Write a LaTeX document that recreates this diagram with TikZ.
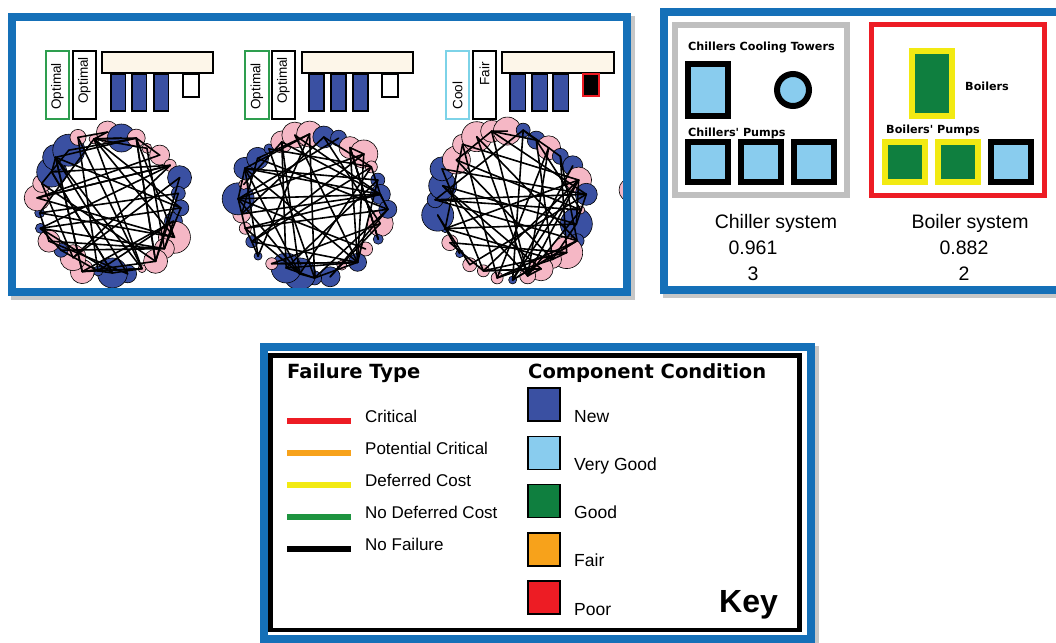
\documentclass[tikz,border=0pt]{standalone}
\usepackage{fontspec}
\setmainfont{Liberation Sans}
\newfontfamily\vfont{DejaVu Sans}
\usepackage{tikz}

\definecolor{frameblue}{HTML}{1570B8}
\definecolor{netpink}{HTML}{F5B7C5}
\definecolor{netblue}{HTML}{3A50A2}
\definecolor{paleyellow}{HTML}{FDF6E9}
\definecolor{skyblue}{HTML}{89CCEE}
\definecolor{goodgreen}{HTML}{0F7F3F}
\definecolor{fairorange}{HTML}{F7A21B}
\definecolor{poorred}{HTML}{ED1C24}
\definecolor{defyellow}{HTML}{F2EA12}
\definecolor{ndcgreen}{HTML}{1E9440}
\definecolor{coolcyan}{HTML}{7DD3E8}
\definecolor{optgreen}{HTML}{2E9E4F}
\definecolor{boxgrey}{HTML}{BFBFBF}

\begin{document}
\begin{tikzpicture}[x=1pt, y=-1pt,
    panel/.style={draw=frameblue, line width=8pt},
    shade/.style={draw=black!22, line width=8pt},
    bar/.style={draw=black, line width=1.6pt},
    edge/.style={line width=1.6pt, line cap=round},
    disk/.style={draw=black, line width=0.6pt},
    unit/.style={line width=6pt},
    comp/.style={draw=black, line width=1.5pt},
    tag/.style={font=\fontsize{13.5}{15}\selectfont, rotate=90, inner sep=0pt},
    small/.style={font=\vfont\bfseries\fontsize{11.2}{13}\selectfont, anchor=base west, inner sep=0pt},
    sys/.style={font=\fontsize{19.5}{22}\selectfont, anchor=base, inner sep=0pt},
    head/.style={font=\vfont\bfseries\fontsize{19.5}{22}\selectfont, anchor=base west, inner sep=0pt},
    lbl/.style={font=\fontsize{17}{19}\selectfont, anchor=base west, inner sep=0pt}]
    \clip (0,0) rectangle (1056,642);

    % ---- Left panel: three network snapshots ----
    \draw[shade] (15,20) rectangle (631,296);
    \fill[white] (16,21) rectangle (624,289);

    % condition tags and bars above each network
    \draw[optgreen, line width=2pt] (46,51) rectangle (69,119);
    \draw[bar] (73,51) rectangle (96,119);
    \node[tag] (opt1a) at (57.5,86.5) {Optimal};
    \node[tag] (opt1b) at (84.5,80.5) {Optimal};
    \draw[bar, fill=paleyellow] (102,52) rectangle (213,73);
    \foreach \x in {111,132,154}
      \draw[bar, fill=netblue] (\x,74) rectangle ++(14.5,37);
    \draw[bar, fill=white] (183,74) rectangle (199,97);

    \draw[optgreen, line width=2pt] (245,51) rectangle (269,119);
    \draw[bar] (272,51) rectangle (295,119);
    \node[tag] (opt2a) at (257,86.5) {Optimal};
    \node[tag] (opt2b) at (283.5,80.5) {Optimal};
    \draw[bar, fill=paleyellow] (302,52) rectangle (413,73);
    \foreach \x in {309,331,353}
      \draw[bar, fill=netblue] (\x,74) rectangle ++(15,37);
    \draw[bar, fill=white] (382,74) rectangle (398,97);

    \draw[coolcyan, line width=2pt] (446,51) rectangle (469,119);
    \draw[bar] (473,51) rectangle (496,119);
    \node[tag] (cool) at (457.5,95.5) {Cool};
    \node[tag] (fair) at (484.5,74) {Fair};
    \draw[bar, fill=paleyellow] (502,52) rectangle (614,73);
    \foreach \x in {510,532,553}
      \draw[bar, fill=netblue] (\x,74) rectangle ++(15.5,37);
    \draw[poorred, line width=2pt, fill=black] (583,74) rectangle (599,96);

    % networks: nodes round a ring, pseudo-random sizes and links
    \foreach \p/\cx/\cy/\rr/\s in {a/110/203/69/21, b/312/204/71/5, c/510/205/72/9}{
      \pgfmathsetseed{\s}
      \foreach \k in {1,...,30}{
        \pgfmathrandominteger{\dr}{-3}{5}
        \pgfmathsetmacro\ang{\k*12+4}
        \pgfmathsetmacro\rad{\rr+\dr}
        \coordinate (\p-\k) at ([shift={(\cx,\cy)}]\ang:\rad);
      }
      \foreach \k in {1,...,30}{
        \pgfmathrandominteger{\sz}{4}{16}
        \pgfmathrandominteger{\cc}{0}{1}
        \ifnum\cc=0 \def\fc{netpink}\else\def\fc{netblue}\fi
        \filldraw[disk, fill=\fc] (\p-\k) circle (\sz pt);
      }
      \foreach \e in {1,...,62}{
        \pgfmathrandominteger{\i}{1}{30}
        \pgfmathrandominteger{\j}{1}{30}
        \draw[edge] (\p-\i) -- (\p-\j);
      }
    }
    \begin{scope}
      \clip (16,21) rectangle (623,289);
      \filldraw[disk, fill=netpink] (631,190) circle (12pt);
    \end{scope}
    \draw[panel] (12,17) rectangle (627,292);

    % ---- Right panel: chiller and boiler systems ----
    \draw[shade] (667,15) rectangle (1066,294);
    \fill[white] (668,16) rectangle (1060,286);
    \draw[boxgrey, line width=6pt] (675,25) rectangle (847,195);
    \draw[poorred, line width=5pt] (871.5,24.5) rectangle (1044.5,195.5);

    \node[small] (chl) at (688,51) {Chillers Cooling Towers};
    \draw[unit, fill=skyblue] (688,64) rectangle (728,116);
    \draw[unit, fill=skyblue] (793,90) circle (16pt);
    \node[small] (chp) at (688,136) {Chillers' Pumps};
    \foreach \x in {688,741,794}
      \draw[unit, fill=skyblue] (\x,142) rectangle ++(40,40);

    \draw[unit, draw=defyellow, fill=goodgreen] (912,51) rectangle (952,116);
    \node[small] (blr) at (965,90) {Boilers};
    \node[small] (blp) at (886,133) {Boilers' Pumps};
    \foreach \x in {885,938}
      \draw[unit, draw=defyellow, fill=goodgreen] (\x,142) rectangle ++(40,40);
    \draw[unit, fill=skyblue] (991,142) rectangle (1031,182);

    \node[sys] (chs) at (776,228) {Chiller system};
    \node[sys] (chv) at (753,254) {0.961};
    \node[sys] (chn) at (753,280) {3};
    \node[sys] (bos) at (970,228) {Boiler system};
    \node[sys] (bov) at (964,254) {0.882};
    \node[sys] (bon) at (964,280) {2};
    \draw[panel] (664,12.5) rectangle (1062,290);

    % ---- Key ----
    \draw[shade] (267,350) rectangle (815,645);
    \fill[white] (264,347) rectangle (811,639);
    \draw[panel] (264,347) rectangle (811,639);
    \draw[black, line width=4.5pt] (270.5,355.5) rectangle (799.5,630);

    \node[head] (fhead) at (287,378) {Failure Type};
    \foreach \c/\t [count=\n] in {poorred/Critical, fairorange/Potential Critical,
        defyellow/Deferred Cost, ndcgreen/No Deferred Cost, black/No Failure}{
      \pgfmathsetmacro\yy{421+(\n-1)*32}
      \draw[\c, line width=6pt] (287,\yy) -- (351,\yy);
      \node[lbl] (fail\n) at (365,\yy+1) {\t};
    }

    \node[head] (chead) at (528,378) {Component Condition};
    \foreach \c/\t [count=\n] in {netblue/New, skyblue/Very Good,
        goodgreen/Good, fairorange/Fair, poorred/Poor}{
      \pgfmathsetmacro\yy{388+(\n-1)*48.25}
      \draw[comp, fill=\c] (528,\yy) rectangle ++(32,33);
      \node[lbl, font=\fontsize{17.5}{19}\selectfont] (cond\n) at (574,\yy+34) {\t};
    }
    \node[anchor=base west, inner sep=0pt, font=\bfseries\fontsize{32}{36}\selectfont]
      (key) at (719,612) {Key};
  \end{tikzpicture}
\end{document}
